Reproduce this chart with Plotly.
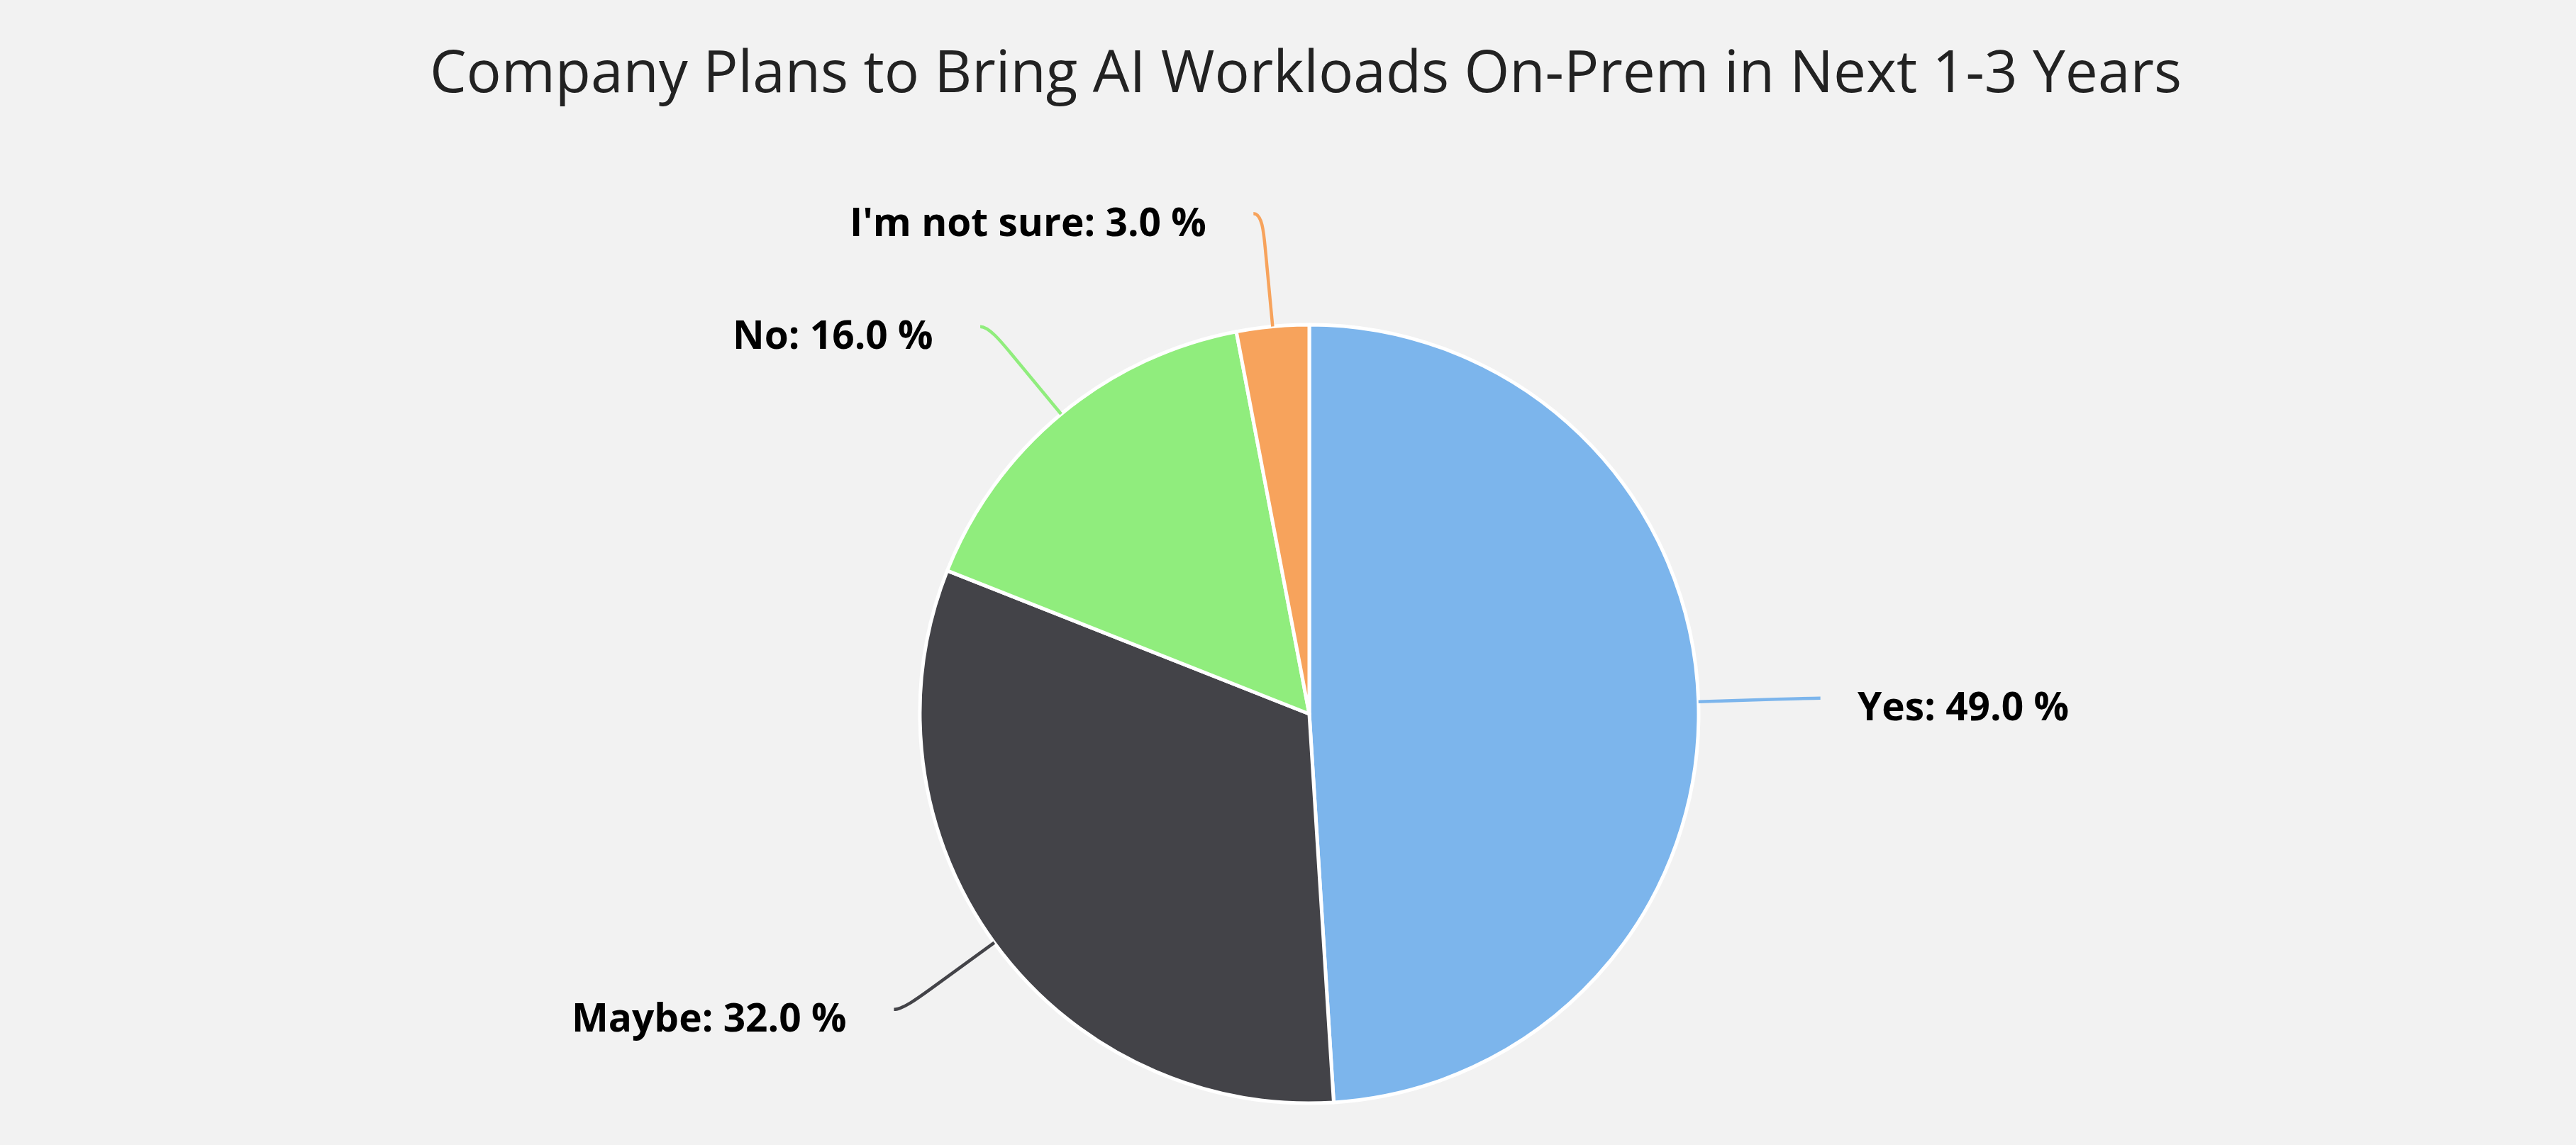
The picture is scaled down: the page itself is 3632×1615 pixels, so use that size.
import math
import plotly.graph_objects as go

# survey answers
labels = ["Yes", "Maybe", "No", "I'm not sure"]
shares = [49.0, 32.0, 16.0, 3.0]
colors = ["#7cb5ec", "#434348", "#90ed7d", "#f7a35c"]

W, H = 3632, 1615
cx, cy, r = 1846, 1007, 549   # pie centre / radius in px


def to_paper(px, py):
    return px / W, 1 - py / H


fig = go.Figure(go.Pie(
    labels=labels, values=shares,
    sort=False, direction="clockwise", rotation=0,
    marker=dict(colors=colors, line=dict(color="white", width=5)),
    textinfo="none", hoverinfo="label+percent", showlegend=False,
    domain=dict(x=[(cx - r) / W, (cx + r) / W],
                y=[1 - (cy + r) / H, 1 - (cy - r) / H]),
))

# highcharts-like labels with soft connectors
total = sum(shares)
cum = 0
for lab, val, col in zip(labels, shares, colors):
    theta = math.radians((cum + val / 2) / total * 360)
    cum += val
    s, c = math.sin(theta), math.cos(theta)
    side = 1 if s > 0 else -1

    ex, ey = cx + r * s, cy - r * c
    bx, by = cx + (r + 110) * s, cy - (r + 110) * c
    lx, ly = cx + (r + 160) * s + side * 12, cy - (r + 160) * c
    c1x, c1y = bx + 25 * s, by - 25 * c
    c2x, c2y = lx - side * 12, ly

    pts = [to_paper(*p) for p in [(ex, ey), (bx, by), (c1x, c1y), (c2x, c2y), (lx, ly)]]
    path = "M {0[0]},{0[1]} L {1[0]},{1[1]} C {2[0]},{2[1]} {3[0]},{3[1]} {4[0]},{4[1]}".format(*pts)
    fig.add_shape(type="path", path=path, xref="paper", yref="paper",
                  line=dict(color=col, width=4.5))

    gap = 50 if side > 0 else 64
    tx, ty = to_paper(lx + side * gap, ly + 10)
    fig.add_annotation(
        x=tx, y=ty, xref="paper", yref="paper",
        text=f"{lab}: {val:.1f} %", showarrow=False,
        xanchor="left" if side > 0 else "right", yanchor="middle",
        font=dict(family="Open Sans", size=55, color="#000000", weight="bold"),
    )

fig.update_layout(
    width=W, height=H,
    margin=dict(l=0, r=0, t=0, b=0),
    paper_bgcolor="#f2f2f2",
    plot_bgcolor="#f2f2f2",
    title=dict(
        text="Company Plans to Bring AI Workloads On-Prem in Next 1-3 Years",
        font=dict(family="Open Sans", size=82, color="#222222"),
        x=1841 / W, xanchor="center",
        y=1 - 101 / H, yanchor="middle",
    ),
)

fig.write_html(
    "out.html",
    config={"displayModeBar": False},
    post_script="document.body.style.margin='0';"
                "document.body.style.background='#f2f2f2';"
                "document.body.style.overflow='hidden';",
)
